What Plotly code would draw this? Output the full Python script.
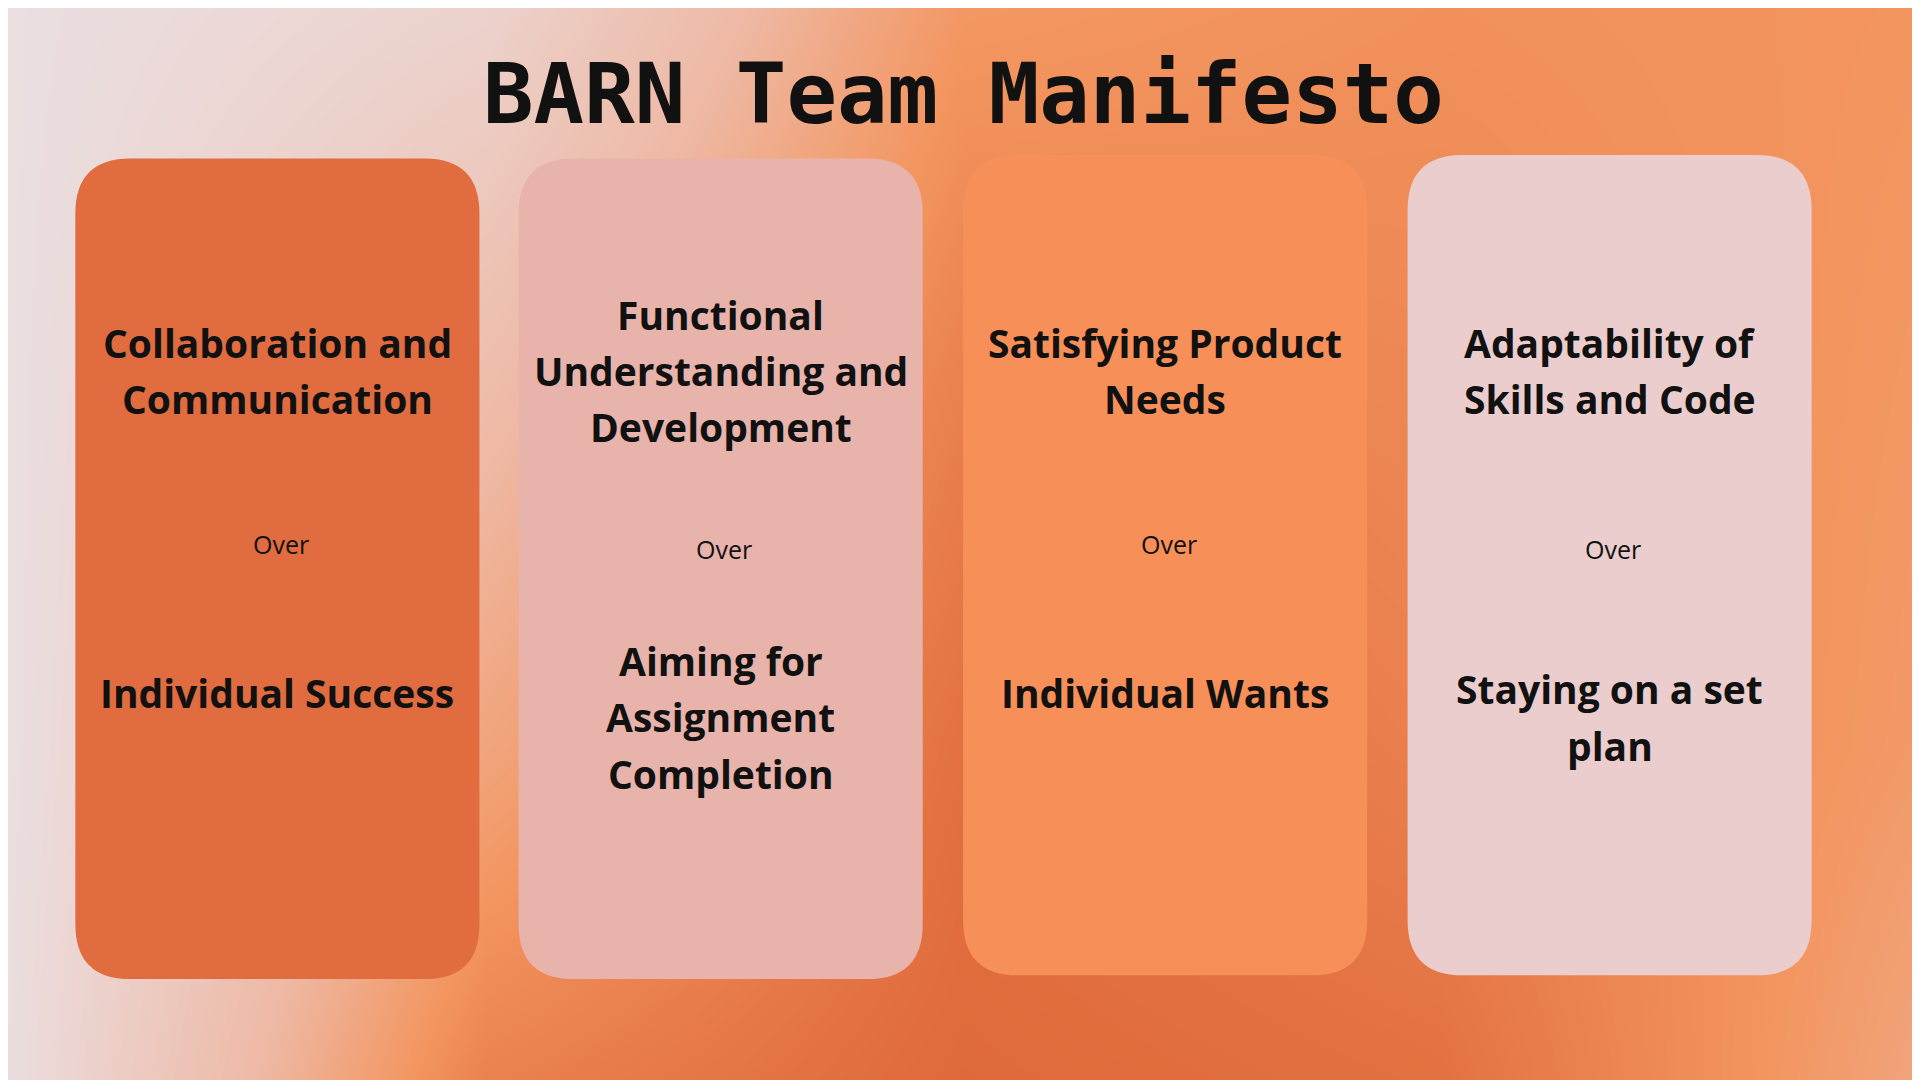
import plotly.graph_objects as go

W, H = 1568, 882

title = "BARN Team Manifesto"
headlines = [["Collaboration and", "Communication"],
             ["Functional", "Understanding and", "Development"],
             ["Satisfying Product", "Needs"],
             ["Adaptability of", "Skills and Code"]]
lower = [["Individual Success"],
         ["Aiming for", "Assignment", "Completion"],
         ["Individual Wants"],
         ["Staying on a set", "plan"]]
card_colors = ["#e06c3f", "#e8b3aa", "#f78f58", "#ebcdcd"]
card_x0 = [55, 417, 780, 1143]
card_y0 = [123, 123, 120, 120]
card_w, card_h = 330, 670
over_y = [441, 445, 441, 445]
lower_y = [562, 582, 562, 582]

# background blur, approximated by a smoothed heatmap
bg_x = [0, 390, 780, 1170, 1568]
bg_y = [0, 300, 600, 882]
bg_z = [[0.0, 0.15, 0.70, 0.75, 0.72],
        [0.0, 0.40, 0.85, 0.80, 0.70],
        [0.0, 0.60, 0.95, 0.85, 0.68],
        [0.02, 0.85, 1.00, 0.95, 0.60]]

fig = go.Figure()
fig.add_trace(go.Heatmap(x=bg_x, y=bg_y, z=bg_z, zsmooth="best", showscale=False,
                         hoverinfo="skip", zmin=0, zmax=1,
                         colorscale=[[0, "#ebdfe1"], [0.45, "#eeb9a5"],
                                     [0.72, "#f3955f"], [1, "#df693a"]]))


def rounded(x0, y0, w, h, r):
    x1, y1 = x0 + w, y0 + h
    return (f"M{x0+r},{y0} L{x1-r},{y0} Q{x1},{y0} {x1},{y0+r} "
            f"L{x1},{y1-r} Q{x1},{y1} {x1-r},{y1} L{x0+r},{y1} "
            f"Q{x0},{y1} {x0},{y1-r} L{x0},{y0+r} Q{x0},{y0} {x0+r},{y0} Z")


def text_block(cx, cy, lines, gap=46):
    start = cy - gap * (len(lines) - 1) / 2
    for k, line in enumerate(lines):
        fig.add_annotation(x=cx, y=start + k * gap, text=f"<b>{line}</b>", showarrow=False,
                           font=dict(family="Open Sans", size=39, color="#111"))


for i in range(4):
    fig.add_shape(type="path", path=rounded(card_x0[i], card_y0[i], card_w, card_h, 45),
                  fillcolor=card_colors[i], line=dict(width=0), layer="above")
    cx = card_x0[i] + card_w / 2
    text_block(cx, 296, headlines[i])
    fig.add_annotation(x=cx + 3, y=over_y[i] - 3, text="Over", showarrow=False,
                       font=dict(family="Open Sans", size=25, color="#111"))
    text_block(cx, lower_y[i] - 3, lower[i])

fig.add_annotation(x=780, y=70, text=f"<b>{title}</b>", showarrow=False,
                   font=dict(family="DejaVu Sans Mono", size=84, color="#111"))

fig.update_xaxes(range=[0, W], visible=False)
fig.update_yaxes(range=[H, 0], visible=False)
fig.update_layout(width=1920, height=1080, margin=dict(l=0, r=0, t=0, b=0),
                  plot_bgcolor="#ebdfe1", paper_bgcolor="#ebdfe1", showlegend=False)
fig.write_html("out.html")
